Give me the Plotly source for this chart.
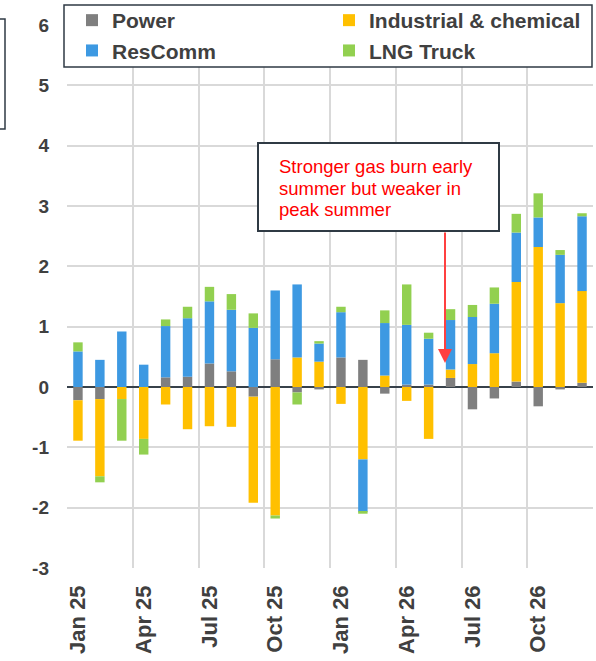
import plotly.graph_objects as go

months = ["Jan 25", "Feb 25", "Mar 25", "Apr 25", "May 25", "Jun 25",
          "Jul 25", "Aug 25", "Sep 25", "Oct 25", "Nov 25", "Dec 25",
          "Jan 26", "Feb 26", "Mar 26", "Apr 26", "May 26", "Jun 26",
          "Jul 26", "Aug 26", "Sep 26", "Oct 26", "Nov 26", "Dec 26"]
tick_labels = ["Jan 25", "Apr 25", "Jul 25", "Oct 25", "Jan 26", "Apr 26", "Jul 26", "Oct 26"]
y_ticks = [-3, -2, -1, 0, 1, 2, 3, 4, 5, 6]
y_tick_labels = ["-3", "-2", "-1", "0", "1", "2", "3", "4", "5", "6"]

power = [-0.22, -0.20, 0.00, 0.00, 0.16, 0.17, 0.39, 0.26, -0.16, 0.46, -0.09, -0.04,
         0.49, 0.45, -0.11, 0.04, 0.04, 0.15, -0.37, -0.19, 0.09, -0.32, -0.04, 0.07]
industrial = [-0.67, -1.28, -0.20, -0.86, -0.29, -0.70, -0.65, -0.66, -1.76, -2.13, 0.49, 0.42,
              -0.28, -1.20, 0.19, -0.23, -0.86, 0.14, 0.38, 0.56, 1.65, 2.32, 1.39, 1.52]
rescomm = [0.59, 0.45, 0.92, 0.37, 0.85, 0.97, 1.03, 1.02, 0.98, 1.14, 1.21, 0.30,
           0.75, -0.87, 0.87, 0.99, 0.76, 0.82, 0.78, 0.82, 0.82, 0.49, 0.80, 1.24]
lng = [0.15, -0.10, -0.69, -0.26, 0.11, 0.19, 0.24, 0.26, 0.24, -0.05, -0.20, 0.04,
       0.09, -0.03, 0.21, 0.67, 0.10, 0.18, 0.20, 0.27, 0.31, 0.40, 0.08, 0.05]

note_lines = ["Stronger gas burn early", "summer but weaker in", "peak summer"]

series = [
    ("Power", power, "#7f7f7f"),
    ("Industrial & chemical", industrial, "#ffc000"),
    ("ResComm", rescomm, "#3d99e2"),
    ("LNG Truck", lng, "#92d050"),
]

x = list(range(len(months)))
TXT = "#404040"
FONT = "Liberation Sans"
DARK = "#2f3a44"

fig = go.Figure()
for name, vals, color in series:
    fig.add_trace(go.Bar(x=x, y=vals, name=name, marker=dict(color=color, line=dict(width=0)),
                         customdata=months, hovertemplate="%{customdata}: %{y}<extra>" + name + "</extra>"))

W, H = 596, 661
ml, mr, mt, mb = 67, 3, 25, 93
pw, ph = W - ml - mr, H - mt - mb

def px(xp):
    return (xp - ml) / pw

def py(yp):
    return (H - mb - yp) / ph

fig.update_layout(
    width=W, height=H,
    margin=dict(l=ml, r=mr, t=mt, b=mb, pad=0, autoexpand=False),
    barmode="relative",
    bargap=0.57,
    plot_bgcolor="white",
    paper_bgcolor="white",
    font=dict(family=FONT, color=TXT),
    showlegend=True,
    legend=dict(
        orientation="h",
        x=px(72), xanchor="left",
        y=py(0), yanchor="top",
        entrywidth=212, entrywidthmode="pixels",
        bgcolor="rgba(0,0,0,0)",
        borderwidth=0,
        font=dict(family=FONT, size=21, color=TXT, weight="bold"),
        traceorder="normal",
        itemclick=False,
    ),
    xaxis=dict(
        range=[-0.5, len(months) - 0.5],
        tickmode="array",
        tickvals=[months.index(t) for t in tick_labels],
        ticktext=tick_labels,
        tickangle=-90,
        ticks="",
        showgrid=False,
        zeroline=False,
        showline=False,
        ticklabelstandoff=12,
        tickfont=dict(family=FONT, size=22, color=TXT, weight="bold"),
        minor=dict(
            tickmode="array",
            tickvals=[i - 0.5 for i in range(0, len(months) + 1, 3)],
            showgrid=True, gridcolor="#d9d9d9", gridwidth=1.8, ticks="",
        ),
    ),
    yaxis=dict(
        range=[-3, 6],
        tickmode="array",
        tickvals=y_ticks,
        ticktext=y_tick_labels,
        showgrid=True,
        gridcolor="#d9d9d9",
        gridwidth=1.8,
        zeroline=True,
        zerolinecolor="#37414a",
        zerolinewidth=2,
        showline=False,
        ticks="",
        ticklabelstandoff=17,
        tickfont=dict(family=FONT, size=19, color=TXT, weight="bold"),
    ),
)

# Legend frame
fig.add_shape(type="rect", xref="paper", yref="paper",
              x0=px(64), x1=px(592), y0=py(67), y1=py(5),
              line=dict(color=DARK, width=1.5), fillcolor="white", layer="above")
# Annotation box
fig.add_shape(type="rect", xref="paper", yref="paper",
              x0=px(258), x1=px(499), y0=py(231), y1=py(143),
              line=dict(color=DARK, width=2), fillcolor="white", layer="above")
for i, line in enumerate(note_lines):
    fig.add_annotation(xref="paper", yref="paper", x=px(277), y=py(166.5 + 21.5 * i),
                       xanchor="left", yanchor="middle", align="left", showarrow=False,
                       text=line,
                       font=dict(family="Liberation Sans", size=18.5, color="#ff0000"))
# Arrow
fig.add_annotation(xref="paper", yref="paper", x=px(445), y=py(363),
                   ax=0, ay=231 - 363, axref="pixel", ayref="pixel",
                   text="", showarrow=True, arrowhead=2, arrowsize=1.4, arrowwidth=2,
                   arrowcolor="#ff4040")
# Partially visible box at top-left edge
fig.add_shape(type="rect", xref="paper", yref="paper",
              x0=px(-20), x1=px(5), y0=py(129), y1=py(19),
              line=dict(color=DARK, width=1.5), fillcolor="rgba(0,0,0,0)")

fig.write_html("out.html", config={"displayModeBar": False},
               post_script="document.body.style.margin='0';")
